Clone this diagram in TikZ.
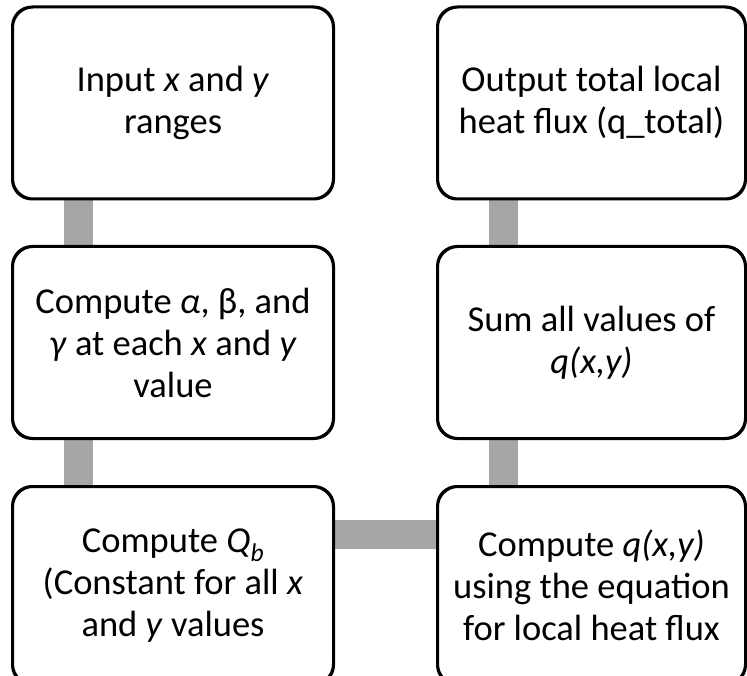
\documentclass[tikz,border=0pt]{standalone}
\usepackage{fontspec}
\setmainfont{Carlito}
\begin{document}
\begin{tikzpicture}[x=1pt,y=1pt,
  stepbox/.style={draw=black, line width=2pt, rounded corners=20pt, fill=white,
    align=center, inner sep=0pt, font=\fontsize{36.5}{42}\selectfont},
  leftbox/.style={stepbox, minimum width=320pt, minimum height=191pt},
  rightbox/.style={stepbox, minimum width=307pt, minimum height=191pt},
  lowbox/.style={minimum height=197pt},
  conn/.style={draw=black!35, line width=29pt}]
\useasboundingbox (0,0) rectangle (747,-676);
% boxes, left column
\node[leftbox] (in)  at (173,-103)   {Input \textit{x} and \textit{y}\\ranges};
\node[leftbox] (abg) at (173,-342.5) {Compute \textit{α}, β, and\\\textit{γ} at each \textit{x} and \textit{y}\\value};
\node[leftbox,lowbox] (qb) at (173,-585.5) {Compute \textit{Q}\textsubscript{\textit{b}}\\(Constant for all \textit{x}\\and \textit{y} values};
% boxes, right column
\node[rightbox] (out) at (591.5,-103)   {Output total local\\heat flux (q\_total)};
\node[rightbox] (sum) at (591.5,-342.5) {Sum all values of\\\textit{q(x,y)}};
\node[rightbox,lowbox] (qxy) at (591.5,-585.5) {Compute \textit{q(x,y)}\\using the equation\\for local heat flux};
% grey connectors between the boxes
\path[conn] ([xshift=-94.5pt]in.south) -- ([xshift=-94.5pt]abg.north);
\path[conn] ([xshift=-94.5pt]abg.south) -- ([xshift=-94.5pt]qb.north);
\path[conn] ([yshift=51.5pt]qb.east) -- ([yshift=51.5pt]qxy.west);
\path[conn] ([xshift=-88pt]qxy.north) -- ([xshift=-88pt]sum.south);
\path[conn] ([xshift=-88pt]sum.north) -- ([xshift=-88pt]out.south);
% box outlines redrawn over the connector ends
\foreach \n in {in,abg,qb,out,sum,qxy}
  \draw[line width=2pt, rounded corners=20pt] (\n.north west) rectangle (\n.south east);
\end{tikzpicture}
\end{document}
